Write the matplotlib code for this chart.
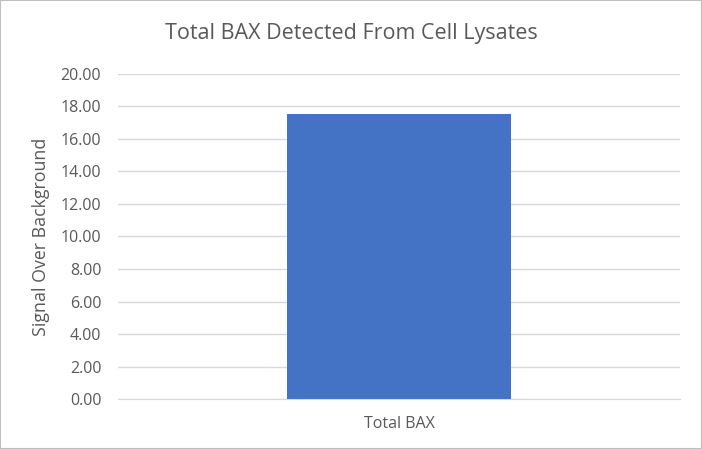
import matplotlib.pyplot as plt
from matplotlib.patches import Rectangle

categories = ['Total BAX']
values = [17.55]
y_ticks = [0, 2, 4, 6, 8, 10, 12, 14, 16, 18, 20]

plt.rcParams['font.family'] = ['Open Sans', 'DejaVu Sans']

fig = plt.figure(figsize=(7.02, 4.49), dpi=100)
ax = fig.add_axes([0.168, 0.111, 0.801, 0.725])

ax.bar(range(len(categories)), values, width=0.397, color='#4472C4', zorder=3)
ax.set_xlim(-0.5, 0.5)
ax.set_ylim(0, 20)
ax.set_yticks(y_ticks)
ax.set_yticklabels([f'{t:.2f}' for t in y_ticks])
ax.set_xticks(range(len(categories)))
ax.set_xticklabels(categories)

ax.grid(axis='y', color='#D9D9D9', linewidth=1, zorder=0)
for side in ['top', 'right', 'left']:
    ax.spines[side].set_visible(False)
ax.spines['bottom'].set_color('#D9D9D9')
ax.tick_params(axis='both', length=0, labelsize=11.5, colors='#595959', pad=12)

ax.set_ylabel('Signal Over Background', fontsize=12.8, color='#595959')
ax.yaxis.set_label_coords(-0.121, 0.5)
fig.text(0.5, 0.926, 'Total BAX Detected From Cell Lysates', ha='center', va='center',
         fontsize=15.5, color='#595959')

fig.patches.append(Rectangle((0, 0), 1, 1, transform=fig.transFigure, fill=False,
                             edgecolor='#BFBFBF', linewidth=1.5))

plt.savefig('out.png', dpi=100)
